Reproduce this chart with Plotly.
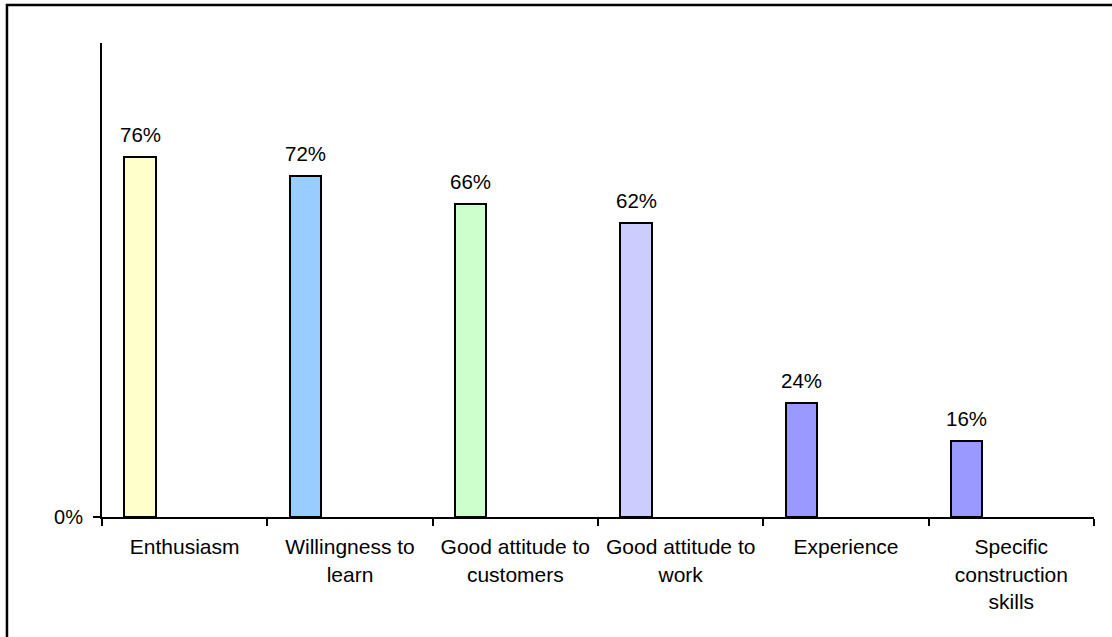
import plotly.graph_objects as go

categories = [
    "Enthusiasm",
    "Willingness to<br>learn",
    "Good attitude to<br>customers",
    "Good attitude to<br>work",
    "Experience",
    "Specific<br>construction<br>skills",
]
values = [0.76, 0.72, 0.66, 0.62, 0.24, 0.16]
bar_colors = ["#FFFFCC", "#99CCFF", "#CCFFCC", "#CCCCFF", "#9999FF", "#9999FF"]

FONT = "Liberation Sans, Arial, sans-serif"
positions = list(range(len(categories)))
bar_offset = -0.27      # bars sit left of the category centre
bar_width = 0.19

fig = go.Figure()
fig.add_trace(go.Bar(
    x=[p + bar_offset for p in positions],
    y=values,
    width=bar_width,
    marker=dict(color=bar_colors, line=dict(color="black", width=2)),
    hoverinfo="skip",
))

for p, v in zip(positions, values):
    fig.add_annotation(
        x=p + bar_offset, y=v, text=f"{round(v * 100)}%",
        showarrow=False, yanchor="bottom", yshift=9,
        font=dict(family=FONT, size=20.5, color="black"),
    )

# outer chart border
fig.add_shape(
    type="rect", xref="paper", yref="paper",
    x0=-0.0958, x1=1.2, y0=-0.4, y1=1.080,
    line=dict(color="black", width=2.5), fillcolor="rgba(0,0,0,0)",
    layer="above",
)

fig.update_layout(
    width=1112, height=637,
    margin=dict(l=102, r=18, t=43, b=120),
    paper_bgcolor="white", plot_bgcolor="white",
    showlegend=False,
    bargap=0,
    font=dict(family=FONT, size=21, color="black"),
    xaxis=dict(
        range=[-0.5, len(categories) - 0.5],
        tickvals=positions, ticktext=categories,
        ticks="", showgrid=False, zeroline=False,
        showline=True, linecolor="black", linewidth=2,
        tickfont=dict(family=FONT, size=21, color="black"),
        ticklabelstandoff=10,
        minor=dict(
            tickvals=[p - 0.5 for p in positions] + [len(categories) - 0.5],
            ticks="outside", ticklen=7, tickwidth=2, tickcolor="black",
            showgrid=False,
        ),
        tickangle=0,
        fixedrange=True,
    ),
    yaxis=dict(
        range=[0, 1.0],
        tickvals=[0], ticktext=["0%"],
        ticks="outside", ticklen=7, tickwidth=2, tickcolor="black",
        showgrid=False, zeroline=False,
        showline=True, linecolor="black", linewidth=2,
        tickfont=dict(family=FONT, size=20, color="black"),
        ticklabelstandoff=6,
        fixedrange=True,
    ),
)

fig.write_html("out.html")
